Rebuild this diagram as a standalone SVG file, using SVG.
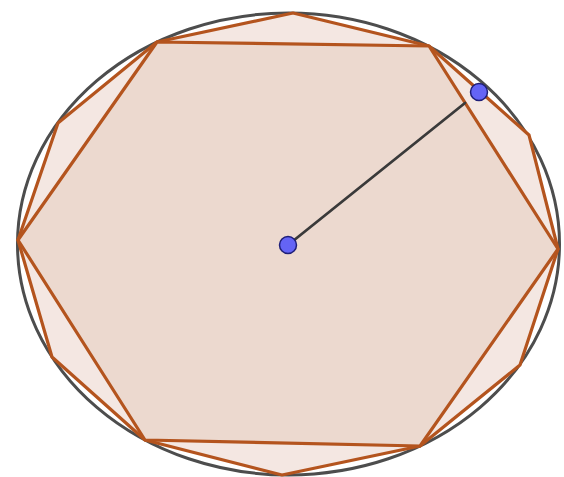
<svg xmlns="http://www.w3.org/2000/svg" width="564" height="477" viewBox="0 0 564 477">
  <style>
    .ell { fill: none; stroke: #4d4d4d; stroke-width: 3; }
    .poly { stroke: #b4541e; stroke-width: 3.2; stroke-linejoin: round; }
    .dodec { fill: #f4e7e2; }
    .hex { fill: #ecd9cf; }
    .pt { fill: #6464f5; stroke: #1e1e78; stroke-width: 1.5; }
    .seg { stroke: #3a3a3a; stroke-width: 2.8; stroke-linecap: round; }
  </style>
  <rect x="0" y="0" width="564" height="477" fill="#ffffff"/>
  <g id="ellipse">
    <ellipse class="ell" cx="288.5" cy="244" rx="271" ry="231"/>
  </g>
  <g id="dodecagon">
    <polygon class="poly dodec" points="293,13 429,46 529,135 558,249 520,365 420,446 282,475 145,440 52,357 18,240 58,123 157,42"/>
  </g>
  <g id="hexagon">
    <polygon class="poly hex" points="157,42 429,46 558,249 420,446 145,440 18,240"/>
  </g>
  <g id="connectors">
    <line class="seg" x1="288" y1="245" x2="465" y2="103"/>
  </g>
  <g id="center">
    <circle class="pt" cx="288" cy="245" r="8.5"/>
  </g>
  <g id="point">
    <circle class="pt" cx="479" cy="92" r="8.5"/>
  </g>
</svg>
